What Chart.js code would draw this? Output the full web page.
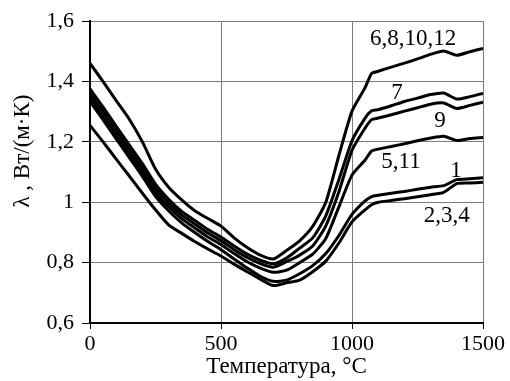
<!DOCTYPE html>
<html><head><meta charset="utf-8">
<script src="https://cdn.jsdelivr.net/npm/chart.js@4"></script>
<style>html,body{margin:0;padding:0;background:#fff}</style>
</head><body>
<canvas id="c" width="510" height="381"></canvas>
<script>
// Temperature grid, °C
const temps = [0,50,100,150,200,250,300,350,400,450,500,550,600,650,700,750,800,850,900,950,1000,1050,1075,1100,1150,1200,1250,1300,1350,1400,1450,1500];
// Thermal conductivity, W/(m·K)
const curve_6_8_10_12 = [1.460,1.400,1.337,1.275,1.200,1.110,1.050,1.008,0.972,0.946,0.921,0.882,0.850,0.825,0.812,0.840,0.872,0.920,1.000,1.155,1.302,1.380,1.427,1.434,1.448,1.461,1.475,1.490,1.501,1.487,1.499,1.510];
const curve_7 = [1.376,1.315,1.252,1.190,1.128,1.060,1.010,0.970,0.940,0.910,0.885,0.855,0.828,0.808,0.796,0.815,0.848,0.882,0.955,1.075,1.204,1.279,1.303,1.307,1.320,1.334,1.345,1.357,1.362,1.342,1.350,1.361];
const curve_9 = [1.361,1.300,1.237,1.175,1.113,1.047,0.998,0.958,0.928,0.898,0.873,0.843,0.817,0.797,0.785,0.803,0.825,0.855,0.922,1.035,1.172,1.246,1.274,1.279,1.290,1.302,1.313,1.325,1.329,1.311,1.321,1.332];
const curve_5_11 = [1.345,1.285,1.222,1.160,1.098,1.033,0.985,0.946,0.915,0.885,0.860,0.830,0.803,0.782,0.768,0.775,0.800,0.828,0.880,0.985,1.090,1.140,1.170,1.176,1.185,1.194,1.204,1.213,1.219,1.205,1.211,1.215];
const curve_1 = [1.334,1.273,1.210,1.148,1.086,1.020,0.972,0.932,0.900,0.870,0.843,0.812,0.782,0.755,0.738,0.742,0.763,0.790,0.830,0.890,0.960,1.005,1.019,1.023,1.030,1.036,1.043,1.050,1.055,1.075,1.078,1.081];
const curve_2_3_4 = [1.255,1.200,1.143,1.087,1.030,0.975,0.925,0.897,0.870,0.845,0.822,0.795,0.770,0.745,0.724,0.733,0.742,0.770,0.805,0.865,0.935,0.975,0.992,1.000,1.006,1.012,1.018,1.025,1.033,1.062,1.064,1.066];

const seriesNames = ['6,8,10,12','7','9','5,11','1','2,3,4'];
const seriesValues = [curve_6_8_10_12, curve_7, curve_9, curve_5_11, curve_1, curve_2_3_4];
// Where each curve label sits, in data units
const labelAtTemp = [1233,1172,1336,1187,1397,1362];
const labelAtValue = [1.542,1.363,1.268,1.133,1.103,0.955];

const xTicks = [0,500,1000,1500];
const yTicks = [0.6,0.8,1.0,1.2,1.4,1.6];
const xTitle = 'Температура, °C';
const yTitle = 'λ , Вт/(м·К)';

const FONT = '"Liberation Serif", "Times New Roman", serif';

const annot = {
  id: 'annot',
  afterDraw(chart) {
    const {ctx, scales: {x, y}} = chart;
    ctx.save();
    ctx.fillStyle = '#000';
    ctx.textAlign = 'center';
    ctx.textBaseline = 'middle';
    ctx.font = '23px ' + FONT;
    seriesNames.forEach((n, i) => {
      ctx.fillText(n, x.getPixelForValue(labelAtTemp[i]), y.getPixelForValue(labelAtValue[i]));
    });
    ctx.translate(23, 151);
    ctx.rotate(-Math.PI / 2);
    ctx.fillText(yTitle, 0, 0);
    ctx.restore();
  }
};

new Chart(document.getElementById('c'), {
  type: 'line',
  data: {
    datasets: seriesValues.map((vals, i) => ({
      label: seriesNames[i],
      data: temps.map((t, j) => ({x: t, y: vals[j]})),
      borderColor: '#000',
      borderWidth: 3,
      pointRadius: 0,
      fill: false,
      tension: 0.2
    }))
  },
  options: {
    responsive: false,
    animation: false,
    layout: {padding: {top: 19, right: 27, left: 0, bottom: 0}},
    plugins: {legend: {display: false}, tooltip: {enabled: false}},
    scales: {
      x: {
        type: 'linear', min: 0, max: 1500,
        afterBuildTicks: s => { s.ticks = xTicks.map(v => ({value: v})); },
        afterFit: s => { s.height = 58; },
        ticks: {font: {family: FONT, size: 22}, color: '#000', padding: 2, maxRotation: 0, autoSkip: false,
          callback: v => String(v)},
        grid: {color: '#7a7a7a', lineWidth: 1, tickLength: 6, tickColor: '#000'},
        border: {color: '#000', width: 2},
        title: {display: true, text: xTitle, color: '#000', font: {family: FONT, size: 23, lineHeight: 1.2}, padding: {top: 0, bottom: 0}}
      },
      y: {
        min: 0.6, max: 1.6,
        afterBuildTicks: s => { s.ticks = yTicks.map(v => ({value: v})); },
        afterFit: s => { s.width = 90; },
        ticks: {
          font: {family: FONT, size: 22}, color: '#000', padding: 8,
          callback: v => String(+Number(v).toFixed(1)).replace('.', ',')
        },
        grid: {color: '#7a7a7a', lineWidth: 1, tickLength: 8, tickColor: '#000'},
        border: {color: '#000', width: 2}
      }
    }
  },
  plugins: [annot]
});
</script>
</body></html>
